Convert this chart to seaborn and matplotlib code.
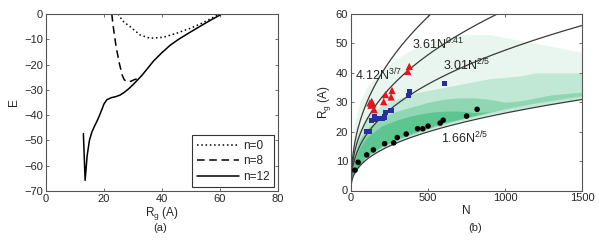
import numpy as np
import pandas as pd
import seaborn as sns
import matplotlib
matplotlib.use("Agg")
import matplotlib.pyplot as plt

# ---- panel (a): energy vs radius of gyration ----
n0_rg = [24.9, 26.5, 29.0, 32.5, 35.9, 40.5, 45.1, 49.7, 54.3, 58.9, 60.3]
n0_e = [0.0, -2.8, -5.0, -8.3, -9.6, -9.2, -7.6, -5.7, -3.4, -0.6, 0.0]

n8_rg = [22.7, 23.2, 24.2, 25.3, 26.3, 27.0, 28.0, 29.3, 30.4, 31.3]
n8_e = [0.0, -5.0, -13.0, -19.5, -24.2, -26.0, -26.8, -26.6, -26.0, -25.7]

n12_rg = [12.9, 13.5, 14.2, 15.0, 15.8, 16.6, 17.5, 18.4, 19.2, 20.0, 21.0,
          22.5, 24.0, 25.5, 27.0, 28.5, 30.0, 31.5, 33.0, 35.0, 37.1, 40.0,
          42.8, 45.5, 48.6, 51.5, 54.3, 57.5, 60.7]
n12_e = [-47.3, -65.8, -56.0, -49.9, -46.8, -44.7, -42.6, -40.3, -38.0, -35.6,
         -33.9, -33.1, -32.7, -32.1, -31.0, -29.6, -28.0, -26.2, -24.4, -21.6,
         -18.6, -15.3, -12.4, -10.2, -8.0, -6.0, -4.1, -2.0, 0.0]

# ---- panel (b): Rg vs N ----
red_n = [123, 130, 134, 140, 150, 212, 224, 260, 266, 368, 378]
red_rg = [29.8, 29.0, 30.3, 29.4, 27.5, 30.2, 32.6, 31.8, 34.0, 40.5, 42.2]

blue_n = [104, 120, 132, 150, 158, 172, 186, 205, 215, 224, 260, 372, 382, 606]
blue_rg = [20.0, 20.0, 23.7, 25.2, 24.3, 24.5, 24.4, 24.6, 25.0, 26.5, 27.2,
           32.3, 33.5, 36.3]

black_n = [26, 46, 102, 145, 218, 277, 300, 358, 432, 466, 500, 578, 598, 750, 818]
black_rg = [6.9, 9.6, 12.1, 13.8, 15.9, 16.2, 18.0, 19.2, 21.0, 21.0, 21.9,
            22.9, 23.9, 25.3, 27.6]

# power-law fits printed on the chart
fit_coef = [4.12, 3.61, 3.01, 1.66]
fit_expo = [3 / 7, 0.41, 2 / 5, 2 / 5]
fit_label = ["4.12N$^{3/7}$", "3.61N$^{0.41}$", "3.01N$^{2/5}$", "1.66N$^{2/5}$"]
label_n = [28, 395, 600, 582]
label_rg = [39.3, 49.5, 42.6, 17.8]

# green point cloud, read as nested density bands (N, lower edge, upper edge)
cloud_n = [0, 20, 50, 100, 200, 300, 400, 500, 600, 700, 800, 900, 1000,
           1100, 1200, 1300, 1400, 1500]
sparse_lo = [3.0, 5.2, 7.4, 10.6, 14.0, 16.4, 18.4, 20.2, 21.7, 23.1, 24.3,
             25.5, 26.5, 27.5, 28.4, 29.3, 30.2, 31.0]
sparse_hi = [3.5, 22, 29, 35, 41, 45, 48, 50, 52, 53, 53, 53, 52,
             51, 50, 49, 48, 47]
mid_lo = [3.5, 5.6, 7.8, 11.0, 14.3, 16.7, 18.7, 20.5, 22.0, 23.4, 24.7,
          25.8, 26.8, 27.8, 28.7, 29.6, 30.4, 31.2]
mid_hi = [4.0, 16, 20, 25, 29, 31, 33, 34, 35, 36, 37, 38, 38.5,
          39, 40, 40, 40, 40]
core_lo = [4.0, 6.0, 8.2, 11.5, 14.8, 17.2, 19.2, 21.0, 22.6, 24.0, 25.3,
           26.5, 27.8, 28.8, 29.8, 30.6, 31.4, 32.2]
core_hi = [4.5, 12, 17, 21, 25, 27, 28.5, 30, 31, 31.5, 31.5, 31, 30,
           30.5, 31.5, 32.5, 33, 33.5]
dense_lo = [4.0, 6.2, 8.4, 11.8, 15.0, 17.5, 19.5, 21.3, 23.0, 24.2, 25.5,
            26.7, 28.0, 29.0, 30.0, 30.8, 31.6, 32.4]
dense_hi = [4.5, 10, 14, 18, 22, 24, 25.5, 26.5, 27, 27, 26.5, 26.7, 28.0,
            29.0, 30.0, 30.8, 31.6, 32.4]

frame = "#555555"
sns.set_style("ticks")
plt.rcParams["font.family"] = ["Liberation Sans", "DejaVu Sans"]
plt.rcParams["mathtext.fontset"] = "custom"
plt.rcParams["mathtext.rm"] = "Liberation Sans"
plt.rcParams["mathtext.it"] = "Liberation Sans:italic"

fig = plt.figure(figsize=(5.99, 2.5), dpi=100)
ax1 = fig.add_axes([0.0768, 0.236, 0.387, 0.708])
ax2 = fig.add_axes([0.586, 0.238, 0.386, 0.706])

# ---- panel (a) ----
df0 = pd.DataFrame({"Rg": n0_rg, "E": n0_e})
df8 = pd.DataFrame({"Rg": n8_rg, "E": n8_e})
df12 = pd.DataFrame({"Rg": n12_rg, "E": n12_e})
sns.lineplot(data=df0, x="Rg", y="E", ax=ax1, color="black", lw=1.1,
             linestyle=(0, (1, 1.8)), sort=False, estimator=None, label="n=0")
sns.lineplot(data=df8, x="Rg", y="E", ax=ax1, color="black", lw=1.1,
             linestyle=(0, (5, 3)), sort=False, estimator=None, label="n=8")
sns.lineplot(data=df12, x="Rg", y="E", ax=ax1, color="black", lw=1.1,
             sort=False, estimator=None, label="n=12")
ax1.set_xlim(0, 80)
ax1.set_ylim(-70, 0)
ax1.set_xticks([0, 20, 40, 60, 80])
ax1.set_yticks(range(-70, 1, 10))
ax1.set_xlabel("R$_\\mathregular{g}$ (A)", fontsize=8.5, labelpad=1)
ax1.set_ylabel("E", fontsize=8.5, labelpad=3)
leg = ax1.legend(loc="lower right", fontsize=8.5, frameon=True, fancybox=False,
                 edgecolor="black", handlelength=3.6, handletextpad=0.3,
                 borderpad=0.4, labelspacing=0.3, borderaxespad=0.3)
leg.get_frame().set_linewidth(0.8)

# ---- panel (b) ----
green = "#00a54f"
ax2.fill_between(cloud_n, sparse_lo, sparse_hi, color=green, alpha=0.09, lw=0)
ax2.fill_between(cloud_n, mid_lo, mid_hi, color=green, alpha=0.17, lw=0)
ax2.fill_between(cloud_n, core_lo, core_hi, color=green, alpha=0.25, lw=0)
ax2.fill_between(cloud_n, dense_lo, dense_hi, color=green, alpha=0.35, lw=0)

nn = np.linspace(0, 1500, 600)
for c, e in zip(fit_coef, fit_expo):
    ax2.plot(nn, c * nn ** e, color="#3a3a3a", lw=0.9)
for t, x, y in zip(fit_label, label_n, label_rg):
    ax2.text(x, y, t, fontsize=9, va="center", ha="left")

sns.scatterplot(x=black_n, y=black_rg, ax=ax2, color="black", marker="o",
                s=16, edgecolor="none", zorder=5)
sns.scatterplot(x=blue_n, y=blue_rg, ax=ax2, color="#2a2e9a", marker="s",
                s=14, edgecolor="none", zorder=5)
sns.scatterplot(x=red_n, y=red_rg, ax=ax2, color="#e8141b", marker="^",
                s=28, edgecolor="none", zorder=6)
ax2.set_xlim(0, 1500)
ax2.set_ylim(0, 60)
ax2.set_xticks([0, 500, 1000, 1500])
ax2.set_yticks(range(0, 61, 10))
ax2.set_xlabel("N", fontsize=8.5, labelpad=1)
ax2.set_ylabel("R$_\\mathregular{g}$ (A)", fontsize=8.5, labelpad=2)

for ax in (ax1, ax2):
    ax.tick_params(direction="in", length=2.5, width=0.6, labelsize=8,
                   top=True, right=True, color=frame, pad=2)
    for sp in ax.spines.values():
        sp.set_visible(True)
        sp.set_color(frame)
        sp.set_linewidth(0.8)

fig.text(160 / 599, 1 - 228 / 250, "(a)", fontsize=8, ha="center", va="center")
fig.text(475 / 599, 1 - 228 / 250, "(b)", fontsize=8, ha="center", va="center")

fig.savefig("out.png", dpi=100)
